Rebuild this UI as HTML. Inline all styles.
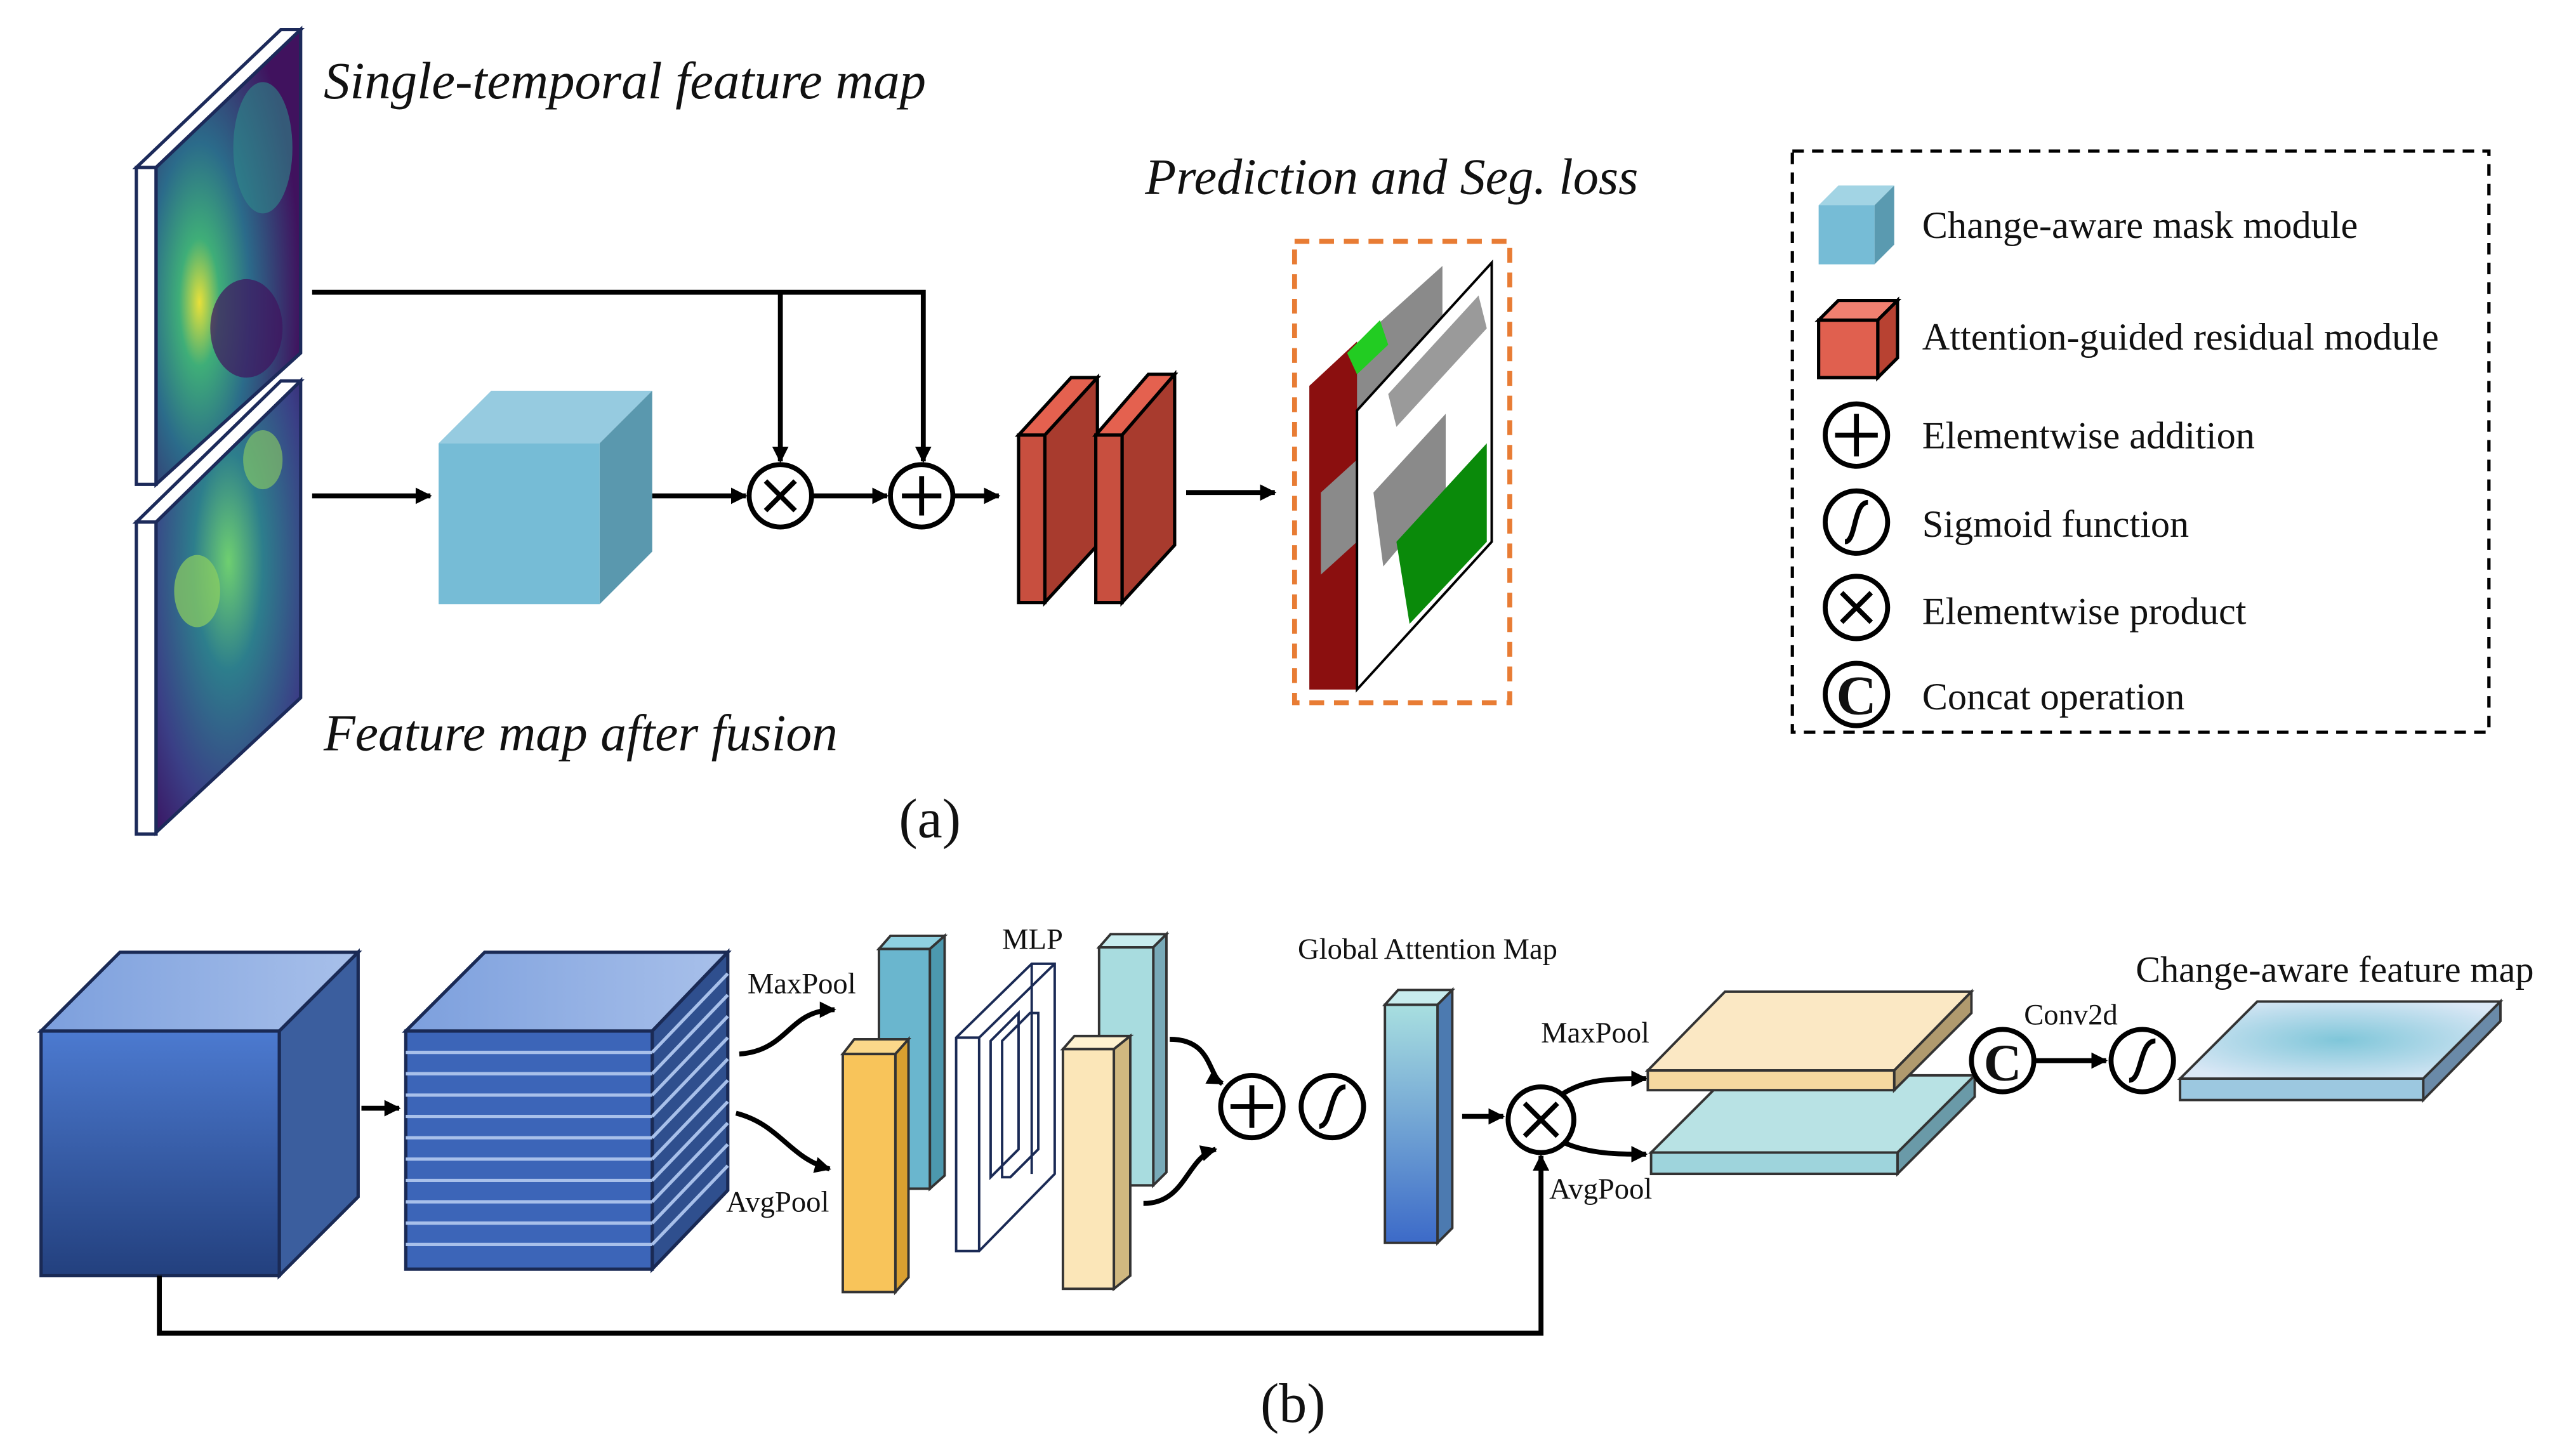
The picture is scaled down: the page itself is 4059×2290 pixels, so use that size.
<!DOCTYPE html>
<html><head><meta charset="utf-8"><style>
html,body{margin:0;padding:0;background:#fff;}
svg{display:block;}
text{font-family:"Liberation Serif",serif;fill:#111;}
</style></head><body>
<svg width="4059" height="2290" viewBox="0 0 1568 885" preserveAspectRatio="none" xmlns="http://www.w3.org/2000/svg">
<defs>
<marker id="ar" markerWidth="10" markerHeight="10" refX="9" refY="5" orient="auto" markerUnits="userSpaceOnUse"><path d="M0,0 L10,5 L0,10 z" fill="#000"/></marker>
<radialGradient id="hm1" cx="0.3" cy="0.6" r="0.7"><stop offset="0" stop-color="#e8e03a"/><stop offset="0.2" stop-color="#3fae78"/><stop offset="0.5" stop-color="#2b6b8a"/><stop offset="1" stop-color="#40125e"/></radialGradient>
<radialGradient id="hm2" cx="0.5" cy="0.4" r="0.8"><stop offset="0" stop-color="#6fcf70"/><stop offset="0.3" stop-color="#2d7e8c"/><stop offset="0.7" stop-color="#3a3f86"/><stop offset="1" stop-color="#3a1260"/></radialGradient>
<linearGradient id="bc" x1="0" y1="0" x2="0" y2="1"><stop offset="0" stop-color="#4c7ad0"/><stop offset="1" stop-color="#23407e"/></linearGradient>
<linearGradient id="bct" x1="0" y1="0" x2="1" y2="0"><stop offset="0" stop-color="#7c9fdd"/><stop offset="1" stop-color="#a8c0ea"/></linearGradient>
<linearGradient id="gam" x1="0" y1="0" x2="0" y2="1"><stop offset="0" stop-color="#a8dfe0"/><stop offset="1" stop-color="#3c6ac8"/></linearGradient>
<radialGradient id="cfm" cx="0.5" cy="0.5" r="0.6"><stop offset="0" stop-color="#7fc6d9"/><stop offset="1" stop-color="#dbe8f6"/></radialGradient>
</defs>

<!-- (a) feature maps -->
<polygon points="83,102 171,18 183,18 95,102" fill="#fff" stroke="#1c2a5a" stroke-width="2"/>
<rect x="83" y="102" width="12" height="193" fill="#fff" stroke="#1c2a5a" stroke-width="2"/>
<polygon points="95,102 183,18 183,215 95,295" fill="url(#hm1)" stroke="#1c2a5a" stroke-width="2"/>
<ellipse cx="160" cy="90" rx="18" ry="40" fill="#2f8a8a" opacity="0.6"/>
<ellipse cx="150" cy="200" rx="22" ry="30" fill="#40125e" opacity="0.7"/>
<polygon points="83,318 171,232 183,232 95,318" fill="#fff" stroke="#1c2a5a" stroke-width="2"/>
<rect x="83" y="318" width="12" height="190" fill="#fff" stroke="#1c2a5a" stroke-width="2"/>
<polygon points="95,318 183,232 183,425 95,507" fill="url(#hm2)" stroke="#1c2a5a" stroke-width="2"/>
<ellipse cx="120" cy="360" rx="14" ry="22" fill="#8fd060" opacity="0.7"/>
<ellipse cx="160" cy="280" rx="12" ry="18" fill="#8fd060" opacity="0.6"/>
<text x="197" y="60" font-size="32" font-style="italic">Single-temporal feature map</text>
<text x="197" y="457" font-size="31.5" font-style="italic">Feature map after fusion</text>

<line x1="190" y1="302" x2="262" y2="302" stroke="#000" stroke-width="3" marker-end="url(#ar)"/>
<polygon points="267,270 299,238 397,238 365,270" fill="#96cbe0"/>
<polygon points="365,270 397,238 397,336 365,368" fill="#5a98ae"/>
<rect x="267" y="270" width="98" height="98" fill="#76bcd6"/>

<polyline points="190,178 562,178 562,281" fill="none" stroke="#000" stroke-width="3" marker-end="url(#ar)"/>
<line x1="475" y1="178" x2="475" y2="281" stroke="#000" stroke-width="3" marker-end="url(#ar)"/>
<line x1="397" y1="302" x2="454" y2="302" stroke="#000" stroke-width="3" marker-end="url(#ar)"/>
<circle cx="475" cy="302" r="19" fill="#fff" stroke="#000" stroke-width="3"/>
<path d="M466,293 L484,311 M484,293 L466,311" stroke="#000" stroke-width="3"/>
<line x1="494" y1="302" x2="540" y2="302" stroke="#000" stroke-width="3" marker-end="url(#ar)"/>
<circle cx="561" cy="302" r="19" fill="#fff" stroke="#000" stroke-width="3"/>
<path d="M561,290 V314 M549,302 H573" stroke="#000" stroke-width="3"/>
<line x1="580" y1="302" x2="608" y2="302" stroke="#000" stroke-width="3" marker-end="url(#ar)"/>
<g stroke="#000" stroke-width="2">
<polygon points="620,265 652,230 668,230 636,265" fill="#e4614f"/>
<polygon points="636,265 668,230 668,332 636,367" fill="#a83b2e"/>
<rect x="620" y="265" width="16" height="102" fill="#c84f3f"/>
<polygon points="667,265 699,228 715,228 683,265" fill="#e4614f"/>
<polygon points="683,265 715,228 715,332 683,367" fill="#a83b2e"/>
<rect x="667" y="265" width="16" height="102" fill="#c84f3f"/>
</g>
<line x1="722" y1="300" x2="776" y2="300" stroke="#000" stroke-width="3" marker-end="url(#ar)"/>
<!-- prediction -->
<rect x="788" y="147" width="131" height="281" fill="none" stroke="#e87c34" stroke-width="3" stroke-dasharray="9,6"/>
<polygon points="797,235 878,162 878,330 797,420" fill="#8a8a8a"/>
<polygon points="797,235 826,208 826,420 797,420" fill="#8b0f0f"/>
<polygon points="804,300 826,280 826,330 804,350" fill="#8a8a8a"/>
<polygon points="820,215 840,195 845,210 826,228" fill="#22cc22"/>
<polygon points="826,250 908,160 908,330 826,420" fill="#fff" stroke="#000" stroke-width="1.5"/>
<polygon points="836,300 880,252 880,300 842,345" fill="#8a8a8a"/>
<polygon points="850,330 905,270 905,330 858,380" fill="#0a8a0a"/>
<polygon points="845,240 900,180 905,200 850,260" fill="#9a9a9a"/>
<text x="697" y="118" font-size="31" font-style="italic">Prediction and Seg. loss</text>

<!-- legend -->
<rect x="1091" y="92" width="424" height="354" fill="none" stroke="#000" stroke-width="2" stroke-dasharray="7,5"/>
<polygon points="1107,125 1119,113 1153,113 1141,125" fill="#a2d4e4"/>
<polygon points="1141,125 1153,113 1153,149 1141,161" fill="#5a9ab0"/>
<rect x="1107" y="125" width="34" height="36" fill="#76bcd6"/>
<g stroke="#000" stroke-width="2">
<polygon points="1107,195 1119,183 1155,183 1143,195" fill="#f08070"/>
<polygon points="1143,195 1155,183 1155,218 1143,230" fill="#b84232"/>
<rect x="1107" y="195" width="36" height="35" fill="#e0604f"/>
</g>
<circle cx="1130" cy="265" r="19" fill="#fff" stroke="#000" stroke-width="3"/>
<path d="M1130,252 V278 M1117,265 H1143" stroke="#000" stroke-width="3"/>
<circle cx="1130" cy="318" r="19" fill="#fff" stroke="#000" stroke-width="3"/>
<path d="M1123,330 C1130,330 1128,306 1137,306" fill="none" stroke="#000" stroke-width="3"/>
<circle cx="1130" cy="370" r="19" fill="#fff" stroke="#000" stroke-width="3"/>
<path d="M1121,361 L1139,379 M1139,361 L1121,379" stroke="#000" stroke-width="3"/>
<circle cx="1130" cy="423" r="19" fill="#fff" stroke="#000" stroke-width="3"/>
<text x="1130" y="435" font-size="34" font-weight="bold" text-anchor="middle">C</text>
<g font-size="23.3">
<text x="1170" y="145">Change-aware mask module</text>
<text x="1170" y="213">Attention-guided residual module</text>
<text x="1170" y="273">Elementwise addition</text>
<text x="1170" y="327">Sigmoid function</text>
<text x="1170" y="380">Elementwise product</text>
<text x="1170" y="432">Concat operation</text>
</g>
<text x="566" y="510" font-size="34" text-anchor="middle">(a)</text>

<!-- (b) -->
<g stroke="#1a2a55" stroke-width="2">
<polygon points="25,628 73,580 218,580 170,628" fill="url(#bct)"/>
<polygon points="170,628 218,580 218,729 170,777" fill="#3b5e9e"/>
<rect x="25" y="628" width="145" height="149" fill="url(#bc)"/>
</g>
<line x1="220" y1="675" x2="243" y2="675" stroke="#000" stroke-width="3" marker-end="url(#ar)"/>
<g stroke="#1a2a55" stroke-width="2">
<polygon points="247,628 295,580 443,580 397,628" fill="url(#bct)"/>
<polygon points="397,628 443,580 443,725 397,773" fill="#2f4f8e"/>
<rect x="247" y="628" width="150" height="145" fill="#3c65b8"/>
</g>
<g stroke="#a8c0ea" stroke-width="2">
<line x1="247" y1="641" x2="397" y2="641"/><line x1="247" y1="654" x2="397" y2="654"/><line x1="247" y1="667" x2="397" y2="667"/><line x1="247" y1="680" x2="397" y2="680"/><line x1="247" y1="693" x2="397" y2="693"/><line x1="247" y1="706" x2="397" y2="706"/><line x1="247" y1="719" x2="397" y2="719"/><line x1="247" y1="732" x2="397" y2="732"/><line x1="247" y1="745" x2="397" y2="745"/><line x1="247" y1="758" x2="397" y2="758"/>
<line x1="397" y1="641" x2="443" y2="593"/><line x1="397" y1="654" x2="443" y2="606"/><line x1="397" y1="667" x2="443" y2="619"/><line x1="397" y1="680" x2="443" y2="632"/><line x1="397" y1="693" x2="443" y2="645"/><line x1="397" y1="706" x2="443" y2="658"/><line x1="397" y1="719" x2="443" y2="671"/><line x1="397" y1="732" x2="443" y2="684"/><line x1="397" y1="745" x2="443" y2="697"/><line x1="397" y1="758" x2="443" y2="710"/>
</g>
<text x="455" y="605" font-size="18">MaxPool</text>
<text x="442" y="738" font-size="18">AvgPool</text>
<path d="M450,642 C480,640 480,615 508,615" fill="none" stroke="#000" stroke-width="3" marker-end="url(#ar)"/>
<path d="M448,678 C475,685 480,705 505,712" fill="none" stroke="#000" stroke-width="3" marker-end="url(#ar)"/>
<g stroke="#333" stroke-width="1.5">
<polygon points="535,578 542,570 575,570 566,578" fill="#8fd0e0"/>
<polygon points="566,578 575,570 575,716 566,724" fill="#4c98ae"/>
<rect x="535" y="578" width="31" height="146" fill="#6ab6ce"/>
<polygon points="513,642 520,633 553,633 545,642" fill="#fbd88a"/>
<polygon points="545,642 553,633 553,778 545,787" fill="#d9a030"/>
<rect x="513" y="642" width="32" height="145" fill="#f8c45a"/>
</g>
<text x="610" y="578" font-size="18">MLP</text>
<g fill="none" stroke="#1a2a55" stroke-width="1.5">
<polygon points="582,632 628,587 642,587 642,715 596,762 582,762"/>
<line x1="596" y1="632" x2="642" y2="587"/><line x1="596" y1="632" x2="596" y2="762"/><line x1="582" y1="632" x2="596" y2="632"/>
<polygon points="603,634 620,617 620,700 603,717"/>
<polygon points="610,634 627,617 632,617 632,700 615,717 610,717"/>
<line x1="628" y1="587" x2="628" y2="715"/>
</g>
<g stroke="#333" stroke-width="1.5">
<polygon points="669,577 676,569 710,569 702,577" fill="#c8ecee"/>
<polygon points="702,577 710,569 710,714 702,722" fill="#78aab8"/>
<rect x="669" y="577" width="33" height="145" fill="#a8dcdf"/>
<polygon points="647,639 654,631 688,631 678,639" fill="#fff2d0"/>
<polygon points="678,639 688,631 688,777 678,785" fill="#d0b880"/>
<rect x="647" y="639" width="31" height="146" fill="#fbe6b8"/>
</g>
<path d="M712,633 C738,633 735,655 744,660" fill="none" stroke="#000" stroke-width="3" marker-end="url(#ar)"/>
<path d="M696,733 C722,733 722,705 740,700" fill="none" stroke="#000" stroke-width="3" marker-end="url(#ar)"/>
<circle cx="762" cy="674" r="19" fill="#fff" stroke="#000" stroke-width="3"/>
<path d="M762,661 V687 M749,674 H775" stroke="#000" stroke-width="3"/>
<circle cx="811" cy="674" r="19" fill="#fff" stroke="#000" stroke-width="3"/>
<path d="M803,686 C811,686 809,662 819,662" fill="none" stroke="#000" stroke-width="3"/>
<text x="790" y="584" font-size="18">Global Attention Map</text>
<g stroke="#333" stroke-width="1.5">
<polygon points="843,612 851,603 884,603 875,612" fill="#c8ecee"/>
<polygon points="875,612 884,603 884,748 875,757" fill="#4c7ab0"/>
<rect x="843" y="612" width="32" height="145" fill="url(#gam)"/>
</g>
<line x1="890" y1="680" x2="915" y2="680" stroke="#000" stroke-width="3" marker-end="url(#ar)"/>
<circle cx="938" cy="682" r="20" fill="#fff" stroke="#000" stroke-width="3"/>
<path d="M928,672 L948,692 M948,672 L928,692" stroke="#000" stroke-width="3"/>
<polyline points="97,777 97,812 938,812 938,704" fill="none" stroke="#000" stroke-width="3" marker-end="url(#ar)"/>
<text x="938" y="635" font-size="18">MaxPool</text>
<text x="943" y="730" font-size="18">AvgPool</text>
<path d="M950,667 C965,657 980,657 1002,657" fill="none" stroke="#000" stroke-width="3" marker-end="url(#ar)"/>
<path d="M952,696 C968,703 985,703 1002,703" fill="none" stroke="#000" stroke-width="3" marker-end="url(#ar)"/>
<g stroke="#333" stroke-width="1.5">
<polygon points="1005,702 1052,655 1202,655 1155,702" fill="#b8e2e4"/>
<polygon points="1155,702 1202,655 1202,668 1155,715" fill="#6a9aa8"/>
<rect x="1005" y="702" width="150" height="13" fill="#9ed4dc"/>
<polygon points="1003,652 1050,604 1200,604 1153,652" fill="#fbe8c4"/>
<polygon points="1153,652 1200,604 1200,617 1153,664" fill="#b09a6e"/>
<rect x="1003" y="652" width="150" height="12" fill="#f6d9a0"/>
</g>
<circle cx="1219" cy="646" r="19" fill="#fff" stroke="#000" stroke-width="3"/>
<text x="1219" y="658" font-size="32" font-weight="bold" text-anchor="middle">C</text>
<text x="1232" y="624" font-size="18">Conv2d</text>
<line x1="1239" y1="646" x2="1282" y2="646" stroke="#000" stroke-width="3" marker-end="url(#ar)"/>
<circle cx="1304" cy="646" r="19" fill="#fff" stroke="#000" stroke-width="3"/>
<path d="M1296,658 C1304,658 1302,634 1312,634" fill="none" stroke="#000" stroke-width="3"/>
<text x="1300" y="598" font-size="22.5">Change-aware feature map</text>
<g stroke="#333" stroke-width="1.5">
<polygon points="1327,657 1374,610 1522,610 1475,657" fill="url(#cfm)"/>
<polygon points="1475,657 1522,610 1522,622 1475,670" fill="#6a8aa8"/>
<rect x="1327" y="657" width="148" height="13" fill="#9cc8e0"/>
</g>
<text x="787" y="866" font-size="34" text-anchor="middle">(b)</text>
</svg>
</body></html>
